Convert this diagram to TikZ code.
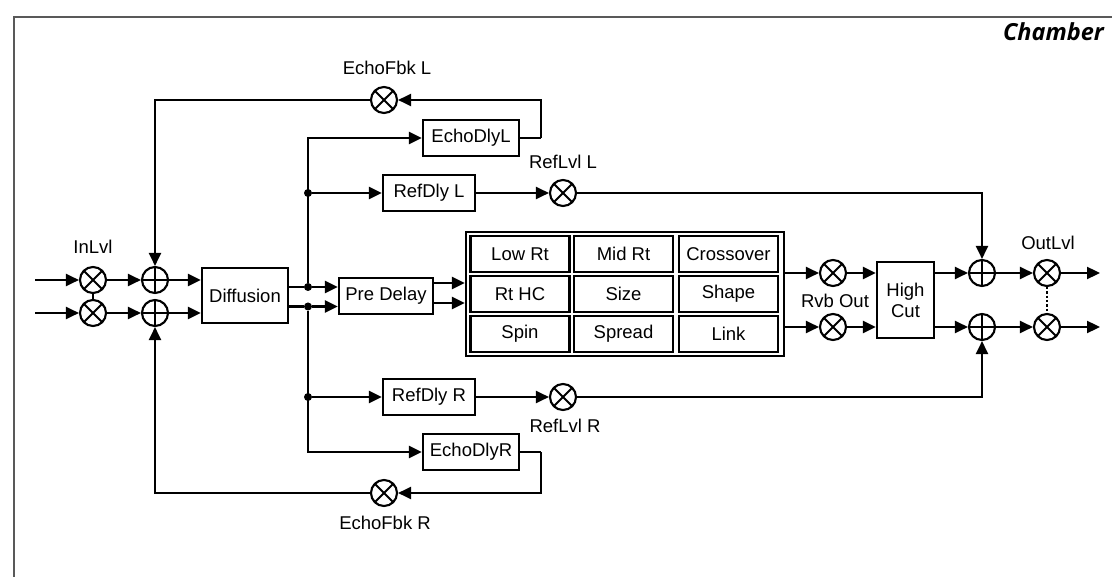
\documentclass[tikz,border=0pt]{standalone}
\usepackage{fontspec}
\setmainfont{Liberation Sans}
\newfontfamily\chamberfont{Open Sans}
\usetikzlibrary{arrows.meta}
\begin{document}
\begin{tikzpicture}[x=1pt,y=-1pt,
  every node/.style={font=\fontsize{18.5}{21}\selectfont},
  wire/.style={line width=2.3pt},
  arr/.style={wire,-{Triangle[length=13pt,width=12pt]}},
  box/.style={draw,line width=2.3pt,inner sep=0pt,align=center},
  cell/.style={draw,line width=2.3pt,inner sep=0pt,minimum width=99pt,minimum height=36pt},
  mul/.style={draw,circle,line width=2.1pt,minimum size=26pt,inner sep=0pt,
    path picture={\draw[line width=2.1pt]
      ([shift={(45:13pt)}]path picture bounding box.center) -- ([shift={(225:13pt)}]path picture bounding box.center)
      ([shift={(135:13pt)}]path picture bounding box.center) -- ([shift={(-45:13pt)}]path picture bounding box.center);}},
  add/.style={draw,circle,line width=2.1pt,minimum size=26pt,inner sep=0pt,
    path picture={\draw[line width=2.1pt]
      ([shift={(0:13pt)}]path picture bounding box.center) -- ([shift={(180:13pt)}]path picture bounding box.center)
      ([shift={(90:13pt)}]path picture bounding box.center) -- ([shift={(-90:13pt)}]path picture bounding box.center);}},
  dot/.style={circle,fill,inner sep=0pt,minimum size=8pt},
  lbl/.style={inner sep=0pt}
]
\useasboundingbox (0,0) rectangle (1112,577);
\draw[line width=1.6pt,black!65] (14,577) -- (14,17) -- (1112,17);
\node[lbl,anchor=east] (title) at (1104,32) {\chamberfont\bfseries\itshape\fontsize{23.5}{26}\selectfont Chamber};

% input stage
\coordinate (i1) at (35,280);
\coordinate (i2) at (35,313);
\node[mul] (in1) at (93,280) {};
\node[mul] (in2) at (93,313) {};
\node[lbl] (inlbl) at (93,247) {InLvl};
\node[add] (ad1) at (155,280) {};
\node[add] (ad2) at (155,313) {};
\node[box,minimum width=86pt,minimum height=55pt] (diff) at (245,295.5) {Diffusion};

\draw[arr] (i1) -- (in1);
\draw[arr] (i2) -- (in2);
\draw[wire] (in1) -- (in2);
\draw[arr] (in1) -- (ad1);
\draw[arr] (in2) -- (ad2);
\draw[arr] (ad1) -- (diff.west |- ad1);
\draw[arr] (ad2) -- (diff.west |- ad2);

% split
\node[dot] (d1) at (308,287) {};
\node[dot] (d2) at (308,306.5) {};
\node[dot] (dL) at (308,193) {};
\node[dot] (dR) at (308,397) {};
\draw[wire] (diff.east |- d1) -- (d1);
\draw[wire] (diff.east |- d2) -- (d2);

\node[box,minimum width=94pt,minimum height=36pt] (pre) at (386,296) {Pre Delay};
\draw[arr] (d1) -- (pre.west |- d1);
\draw[arr] (d2) -- (pre.west |- d2);

\node[box,minimum width=96pt,minimum height=36pt] (echoL) at (471,138) {EchoDlyL};
\node[box,minimum width=92pt,minimum height=36pt] (rdL) at (429,193) {RefDly L};
\node[box,minimum width=92pt,minimum height=36pt] (rdR) at (429,397) {RefDly R};
\node[box,minimum width=96pt,minimum height=36pt] (echoR) at (471,452) {EchoDlyR};

\draw[arr] (d1) |- (echoL.west);
\draw[arr] (dL) -- (rdL.west);
\draw[arr] (d2) |- (echoR.west);
\draw[arr] (dR) -- (rdR.west);

\node[mul] (refL) at (563,193) {};
\node[lbl] (refLlbl) at (563,162) {RefLvl L};
\node[mul] (refR) at (563,397) {};
\node[lbl] (refRlbl) at (565,426) {RefLvl R};
\draw[arr] (rdL) -- (refL);
\draw[arr] (rdR) -- (refR);

% echo feedback
\node[mul] (fbL) at (384,100) {};
\node[lbl] (fbLlbl) at (387,68) {EchoFbk L};
\node[mul] (fbR) at (384,493) {};
\node[lbl] (fbRlbl) at (385,523) {EchoFbk R};
\coordinate (eLr) at (541,138);
\coordinate (eRr) at (541,452);
\draw[wire] (echoL.east) -- (eLr);
\draw[arr] (eLr) |- (fbL);
\draw[arr] (fbL) -| (ad1);
\draw[wire] (echoR.east) -- (eRr);
\draw[arr] (eRr) |- (fbR);
\draw[arr] (fbR) -| (ad2);

% matrix
\node[draw,line width=2.3pt,minimum width=318pt,minimum height=124pt,inner sep=0pt] (mat) at (625,294) {};
\node[cell] (c11) at (520,254) {Low Rt};
\node[cell] (c12) at (623.5,254) {Mid Rt};
\node[cell] (c13) at (728.5,254) {Crossover};
\node[cell] (c21) at (520,294) {Rt HC};
\node[cell] (c22) at (623.5,294) {Size};
\node[cell] (c23) at (728.5,294) {Shape};
\node[cell] (c31) at (520,334) {Spin};
\node[cell] (c32) at (623.5,334) {Spread};
\node[cell] (c33) at (728.5,334) {Link};
\coordinate (p1) at (432.5,283);
\coordinate (p2) at (432.5,303);
\draw[arr] (p1) -- (mat.west |- p1);
\draw[arr] (p2) -- (mat.west |- p2);

% output stage
\node[mul] (rv1) at (833,273) {};
\node[mul] (rv2) at (833,327) {};
\node[lbl] (rvlbl) at (835,301) {Rvb Out};
\draw[arr] (mat.east |- rv1) -- (rv1);
\draw[arr] (mat.east |- rv2) -- (rv2);
\node[box,minimum width=57pt,minimum height=76pt] (hc) at (905.5,300) {High\\Cut};
\draw[arr] (rv1) -- (hc.west |- rv1);
\draw[arr] (rv2) -- (hc.west |- rv2);
\node[add] (sum1) at (982,273) {};
\node[add] (sum2) at (982,327) {};
\draw[arr] (hc.east |- sum1) -- (sum1);
\draw[arr] (hc.east |- sum2) -- (sum2);
\draw[arr] (refL) -| (sum1);
\draw[arr] (refR) -| (sum2);
\node[mul] (out1) at (1047,273) {};
\node[mul] (out2) at (1047,327) {};
\node[lbl] (outlbl) at (1048,243) {OutLvl};
\draw[arr] (sum1) -- (out1);
\draw[arr] (sum2) -- (out2);
\draw[line width=2.3pt,dotted] (out1) -- (out2);
\coordinate (o1) at (1100,273);
\coordinate (o2) at (1100,327);
\draw[arr] (out1) -- (o1);
\draw[arr] (out2) -- (o2);
\end{tikzpicture}
\end{document}
